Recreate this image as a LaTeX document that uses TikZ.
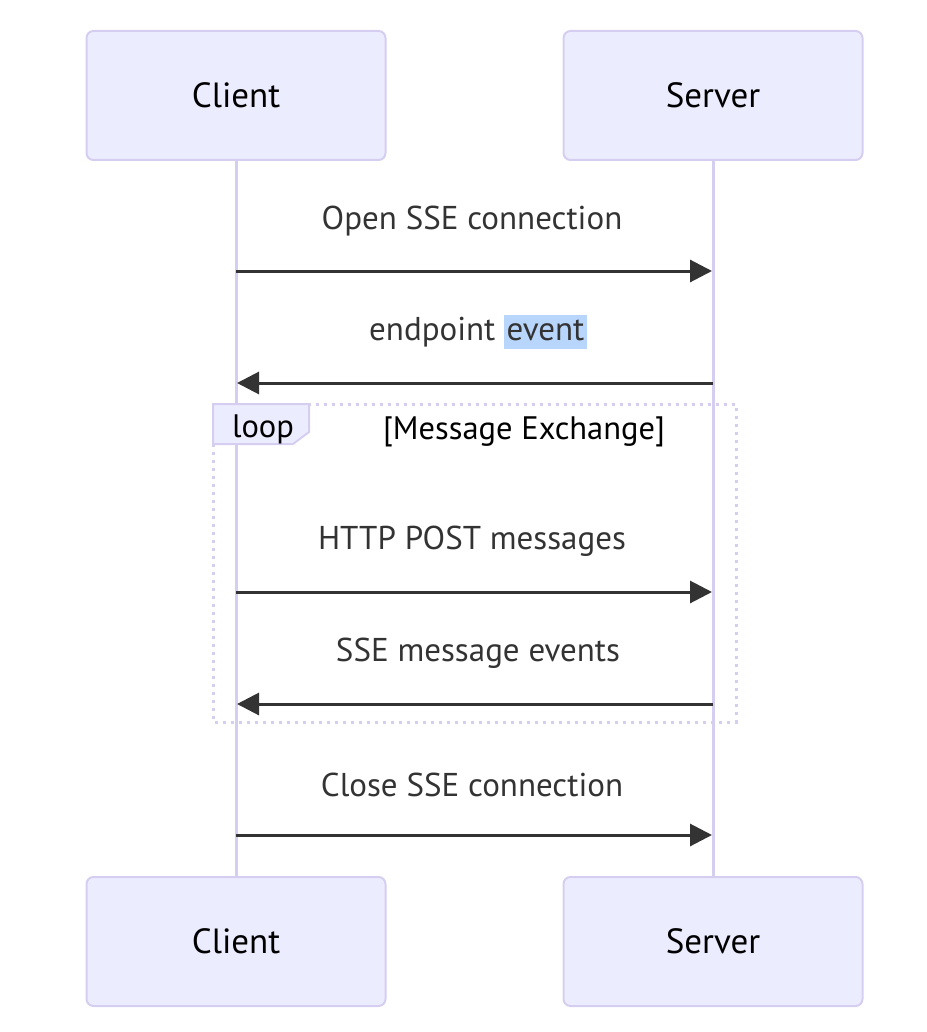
\documentclass[tikz,border=0pt]{standalone}
\usepackage{fontspec}
\setmainfont{PT Sans}
\usetikzlibrary{arrows.meta}

\definecolor{actorfill}{HTML}{ECECFF}
\definecolor{actorline}{HTML}{D6CEF0}
\definecolor{msgline}{HTML}{333333}
\definecolor{hilite}{HTML}{B8D6FB}

\tikzset{
    actor/.style = {draw=actorline, fill=actorfill, line width=2pt, rounded corners=7pt,
        minimum width=299pt, minimum height=129pt, font=\fontsize{35}{40}\selectfont, text=black},
    lifeline/.style = {draw=actorline, line width=3pt},
    msg/.style = {draw=msgline, line width=3pt, -{Triangle[length=22pt, width=22pt]}, shorten >=1pt},
    msglabel/.style = {font=\fontsize{33}{38}\selectfont, text=msgline},
    looptext/.style = {font=\fontsize{32.5}{38}\selectfont, text=black},
    loopframe/.style = {draw=actorline, line width=3pt, dash pattern=on 3pt off 5pt},
}

\begin{document}
\begin{tikzpicture}[x=1pt, y=-1pt]
    \useasboundingbox (0,0) rectangle (926,1032);

    \def \cx {236};
    \def \sx {713};

    % actors
    \node[actor] (client top) at (\cx, 95.5) {Client};
    \node[actor] (server top) at (\sx, 95.5) {Server};
    \node[actor] (client bot) at (\cx, 941.5) {Client};
    \node[actor] (server bot) at (\sx, 941.5) {Server};

    % lifelines
    \draw[lifeline] (client top.south) -- (client bot.north);
    \draw[lifeline] (server top.south) -- (server bot.north);

    % loop frame
    \draw[loopframe] (213,404) rectangle (736,722);
    \draw[draw=actorline, fill=actorfill, line width=2pt] (213,404) -- (309,404) -- (309,432) -- (293,444) -- (213,444) -- cycle;
    \node[looptext] (loop tag) at (263,429) {loop};
    \node[looptext] (loop cond) at (524,432) {[Message Exchange]};

    % message rows
    \foreach \name/\y in {one/271, two/383, three/592, four/704, five/835} {
        \coordinate (c \name) at (\cx, \y);
        \coordinate (s \name) at (\sx, \y);
    }

    \draw[msg] (c one) -- (s one);
    \node[msglabel] (label one) at (472, 221) {Open SSE connection};

    \draw[msg] (s two) -- (c two);
    \node[msglabel] (label two) at (478, 332) {endpoint {\setlength\fboxsep{2.5pt}\colorbox{hilite}{\vphantom{Ep}event}}};

    \draw[msg] (c three) -- (s three);
    \node[msglabel] (label three) at (472, 541) {HTTP POST messages};

    \draw[msg] (s four) -- (c four);
    \node[msglabel] (label four) at (478, 653) {SSE message events};

    \draw[msg] (c five) -- (s five);
    \node[msglabel] (label five) at (472, 785) {Close SSE connection};

\end{tikzpicture}
\end{document}
